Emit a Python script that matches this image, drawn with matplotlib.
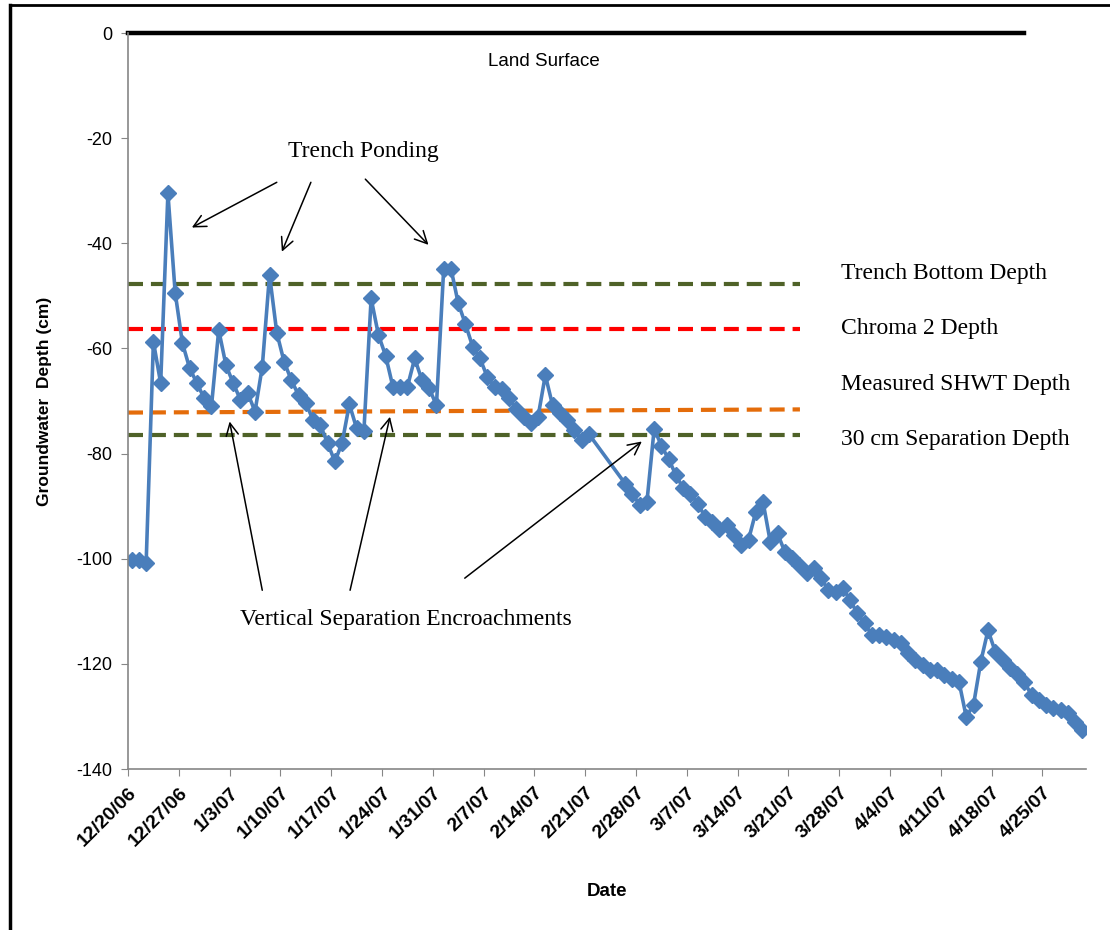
import pandas as pd
import matplotlib
matplotlib.use("Agg")
import matplotlib.pyplot as plt
import matplotlib.dates as mdates
from matplotlib import font_manager
from matplotlib.lines import Line2D

# fechas de medición (una por día, a mediodía; faltan 4 días a fines de febrero)
fechas = pd.date_range("2006-12-20 12:00", "2007-02-21 12:00", freq="D").append(
    pd.date_range("2007-02-26 12:00", "2007-04-30 12:00", freq="D"))

profundidad = [
    -100.2, -100.3, -100.8, -58.7, -66.6, -30.5, -49.4, -59.0, -63.8, -66.6,
    -69.5, -71.0, -56.5, -63.2, -66.6, -69.8, -68.5, -72.0, -63.5, -46.0,
    -57.0, -62.5, -66.0, -68.9, -70.4, -73.6, -74.6, -78.0, -81.5, -78.0,
    -70.6, -75.2, -75.8, -50.5, -57.4, -61.4, -67.3, -67.3, -67.3, -61.9,
    -66.0, -67.6, -70.8, -44.8, -44.8, -51.4, -55.4, -59.7, -61.9, -65.4,
    -67.3, -67.8, -69.5, -71.5, -73.0, -74.2, -73.0, -65.1, -70.8, -72.3,
    -73.6, -75.5, -77.4, -76.3,
    -85.7, -87.6, -89.8, -89.2, -75.3, -78.5, -81.1, -84.1, -86.6, -87.6,
    -89.5, -92.0, -93.0, -94.4, -93.6, -95.5, -97.4, -96.4, -91.1, -89.2,
    -96.8, -95.2, -98.7, -99.9, -101.2, -102.8, -101.8, -103.7, -106.0, -106.3,
    -105.6, -107.9, -110.4, -112.3, -114.5, -114.5, -114.8, -115.5, -116.1, -118.0,
    -119.3, -120.2, -121.2, -121.2, -122.1, -122.8, -123.4, -130.1, -127.8, -119.6,
    -113.6, -117.7, -119.3, -120.7, -122.0, -123.5, -125.9, -126.9, -127.8, -128.4,
    -128.8, -129.4, -131.0, -132.6,
]

# líneas de referencia
ref_nombres = ["Trench Bottom Depth", "Chroma 2 Depth", "Measured SHWT Depth", "30 cm Separation Depth"]
ref_inicio = [-47.8, -56.3, -72.2, -76.4]
ref_fin = [-47.8, -56.3, -71.6, -76.4]
ref_colores = ["#4F6228", "#FF0000", "#E46C0A", "#4F6228"]
ref_fechas = ["2006-12-20 00:00", "2007-03-22 14:00"]
superficie = 0
superficie_fechas = ["2006-12-20 00:00", "2007-04-22 12:00"]

ticks_fechas = pd.date_range("2006-12-20", "2007-04-25", freq="7D")
y_ticks = [0, -20, -40, -60, -80, -100, -120, -140]

nombres = {f.name for f in font_manager.fontManager.ttflist}
angosta = "Liberation Sans Narrow" if "Liberation Sans Narrow" in nombres else "Liberation Sans"
serif = "Liberation Serif"

fig = plt.figure(figsize=(11.1, 9.3), dpi=100)
ax = fig.add_axes([128 / 1110, 1 - 769 / 930, (1086 - 128) / 1110, (769 - 33) / 930])

for nombre, y0, y1, col in zip(ref_nombres, ref_inicio, ref_fin, ref_colores):
    ax.plot(pd.to_datetime(ref_fechas), [y0, y1], color=col, lw=3, dashes=(3.6, 1.9), solid_capstyle="butt")
ax.plot(pd.to_datetime(superficie_fechas), [superficie, superficie], color="black", lw=3.2, clip_on=False)

ax.plot(fechas, profundidad, color="#4A7EBB", lw=2.6, marker="D", ms=7.8, mec="#4A7EBB", mfc="#4A7EBB")

ax.set_xlim(pd.Timestamp("2006-12-20"), pd.Timestamp("2007-05-01"))
ax.set_ylim(-140, 0)
ax.set_xticks(ticks_fechas)
ax.set_xticklabels([f"{d.month}/{d.day}/{d:%y}" for d in ticks_fechas], rotation=45, ha="right",
                   rotation_mode="anchor", family=angosta, fontweight="bold", fontsize=14)
ax.set_yticks(y_ticks)
ax.set_yticklabels([str(v) for v in y_ticks], family="Liberation Sans", fontsize=13)
ax.tick_params(axis="x", length=5, color="#868686", pad=6)
ax.tick_params(axis="y", length=5, color="#868686", pad=6)
for lado in ["top", "right"]:
    ax.spines[lado].set_visible(False)
for lado in ["left", "bottom"]:
    ax.spines[lado].set_color("#868686")
    ax.spines[lado].set_linewidth(1.2)

ax.set_ylabel("Groundwater  Depth (cm)", family=angosta, fontweight="bold", fontsize=12.5, labelpad=18)
ax.set_xlabel("Date", family=angosta, fontweight="bold", fontsize=13.5, labelpad=24)

base = mdates.date2num(pd.Timestamp("2006-12-20"))
flecha = dict(arrowstyle="->", lw=1.1, color="black", mutation_scale=22, shrinkA=0, shrinkB=0)

ax.text(base + 57.3, -5.5, "Land Surface", family="Liberation Sans", fontsize=13.5, ha="center", va="center")
ax.text(base + 32.5, -22.6, "Trench Ponding", family=serif, fontsize=17, ha="center", va="center")
for (tx, ty), (hx, hy) in [((20.5, -28.4), (8.8, -37.0)), ((25.2, -28.4), (21.2, -41.6)),
                           ((32.7, -27.8), (41.4, -40.3))]:
    ax.annotate("", xy=(base + hx, hy), xytext=(base + tx, ty), arrowprops=flecha)

ax.text(base + 38.3, -111.5, "Vertical Separation Encroachments", family=serif, fontsize=17,
        ha="center", va="center")
for (tx, ty), (hx, hy) in [((18.5, -106.0), (14.0, -73.9)), ((30.6, -106.0), (36.1, -73.0)),
                           ((46.4, -103.7), (70.8, -77.7))]:
    ax.annotate("", xy=(base + hx, hy), xytext=(base + tx, ty), arrowprops=flecha)

for nombre, y in zip(ref_nombres, [-45.8, -56.3, -66.8, -77.4]):
    ax.text(base + 98.3, y, nombre, family=serif, fontsize=17, ha="left", va="center")

# marco de la figura original (izquierda y arriba)
fig.add_artist(Line2D([10 / 1110, 10 / 1110], [0, 1 - 5 / 930], transform=fig.transFigure, color="black", lw=2.5))
fig.add_artist(Line2D([10 / 1110, 1], [1 - 5 / 930, 1 - 5 / 930], transform=fig.transFigure, color="black", lw=2))

fig.savefig("out.png", dpi=100)
